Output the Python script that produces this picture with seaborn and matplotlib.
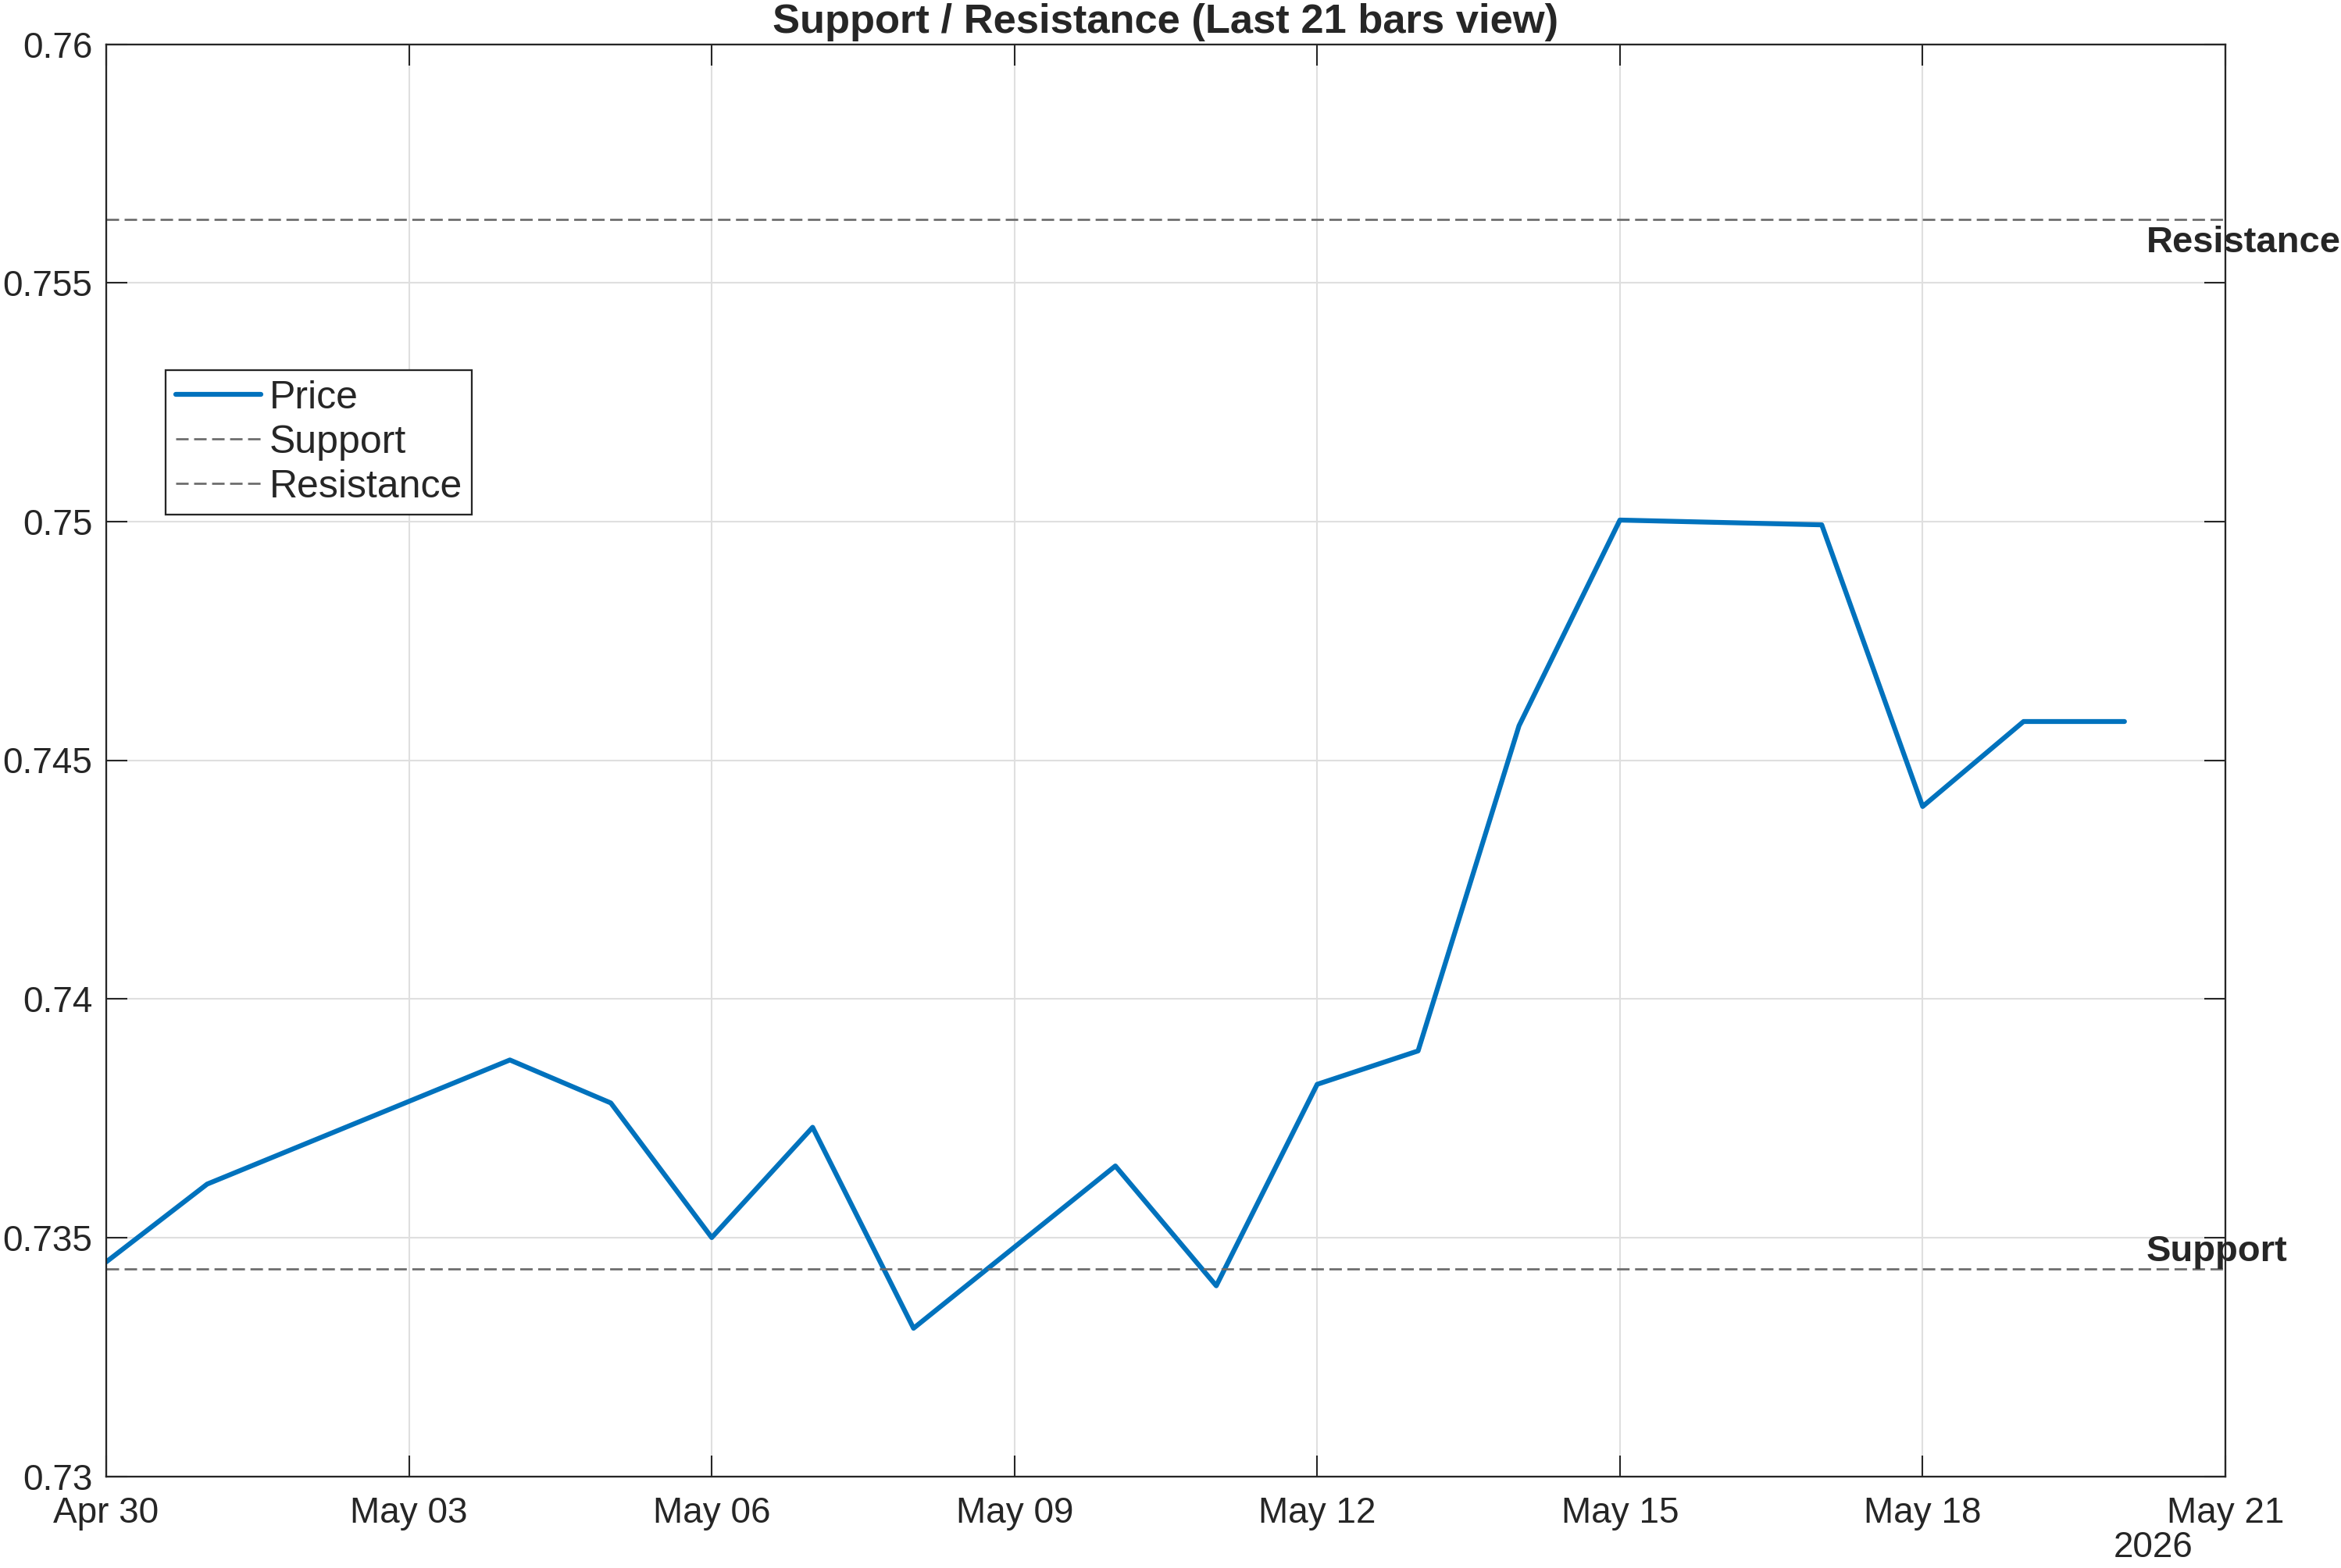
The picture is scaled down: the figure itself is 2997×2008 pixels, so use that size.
import matplotlib
matplotlib.use("Agg")
import matplotlib.pyplot as plt
import matplotlib.dates as mdates
import matplotlib.transforms as mtransforms
from matplotlib.ticker import FuncFormatter, MultipleLocator
import seaborn as sns
import pandas as pd

# ---- data ----
dates = ["2026-04-30", "2026-05-01", "2026-05-04", "2026-05-05", "2026-05-06",
         "2026-05-07", "2026-05-08", "2026-05-10", "2026-05-11", "2026-05-12",
         "2026-05-13", "2026-05-14", "2026-05-15", "2026-05-17", "2026-05-18",
         "2026-05-19", "2026-05-20"]
price = [0.73449, 0.73612, 0.73872, 0.73782, 0.73500,
         0.73731, 0.73310, 0.73650, 0.73399, 0.73821,
         0.73891, 0.74572, 0.75003, 0.74993, 0.74403,
         0.74581, 0.74581]
support_level = 0.73435
resistance_level = 0.75632
title_text = "Support / Resistance (Last 21 bars view)"
legend_labels = ["Price", "Support", "Resistance"]
year_label = "2026"
x_start = "2026-04-30"
x_end = "2026-05-21"

df = pd.DataFrame({"Date": pd.to_datetime(dates), "Price": price})

# ---- style ----
sns.set_theme(style="white")
plt.rcParams["font.family"] = ["Liberation Sans", "DejaVu Sans"]
text_color = "#262626"

fig = plt.figure(figsize=(2997 / 300, 2008 / 300), dpi=300)
ax = fig.add_axes([136 / 2997, 1 - 1890.5 / 2008, (2849 - 136) / 2997, (1890.5 - 56.5) / 2008])

sns.lineplot(data=df, x="Date", y="Price", ax=ax, color="#0072BD",
             linewidth=1.5, label=legend_labels[0])
dash = (5.9, 2.6)
ax.axhline(support_level, color="#6b6b6b", linewidth=0.65, dashes=dash, label=legend_labels[1])
ax.axhline(resistance_level, color="#6b6b6b", linewidth=0.65, dashes=dash, label=legend_labels[2])

ax.set_xlim(pd.Timestamp(x_start), pd.Timestamp(x_end))
ax.set_ylim(0.73, 0.76)
ax.xaxis.set_major_locator(mdates.DayLocator(interval=3))
ax.xaxis.set_major_formatter(mdates.DateFormatter("%b %d"))
ax.yaxis.set_major_locator(MultipleLocator(0.005))
ax.yaxis.set_major_formatter(FuncFormatter(lambda v, p: f"{v:g}"))
ax.set_xlabel("")
ax.set_ylabel("")

ax.grid(True, color="#dfdfdf", linewidth=0.5)
ax.set_axisbelow(True)
for s in ax.spines.values():
    s.set_visible(True)
    s.set_color(text_color)
    s.set_linewidth(0.55)
ax.tick_params(axis="both", which="major", direction="in", length=6.5, width=0.5,
               colors=text_color, labelsize=11, top=True, right=True,
               bottom=True, left=True)
ax.tick_params(axis="y", pad=4.2)
ax.tick_params(axis="x", pad=6.2)

ax.set_title(title_text, fontsize=12.6, fontweight="bold", color=text_color, pad=3.5)

# level labels on the right
trans = mtransforms.blended_transform_factory(ax.transAxes, ax.transData)
ax.text(0.9628, resistance_level - 0.00012, legend_labels[2], transform=trans, ha="left", va="top",
        fontsize=11.3, fontweight="bold", color=text_color, clip_on=False)
ax.text(0.9628, support_level, legend_labels[1], transform=trans, ha="left", va="bottom",
        fontsize=11.3, fontweight="bold", color=text_color, clip_on=False)

# year label below the last tick
fig.text(2756.5 / 2997, 1 - 1960 / 2008, year_label, ha="center", va="top",
         fontsize=11, color=text_color)

leg = ax.legend(loc="upper left", bbox_to_anchor=((212 - 136) / 2713, (1890.5 - 475) / 1833),
                borderaxespad=0, fontsize=12, frameon=True, fancybox=False,
                framealpha=1, edgecolor=text_color, handlelength=2.18,
                handletextpad=0.22, borderpad=0.25, labelspacing=0.22)
leg.get_frame().set_linewidth(0.55)
for t in leg.get_texts():
    t.set_color(text_color)

fig.savefig("out.png", dpi=300)
